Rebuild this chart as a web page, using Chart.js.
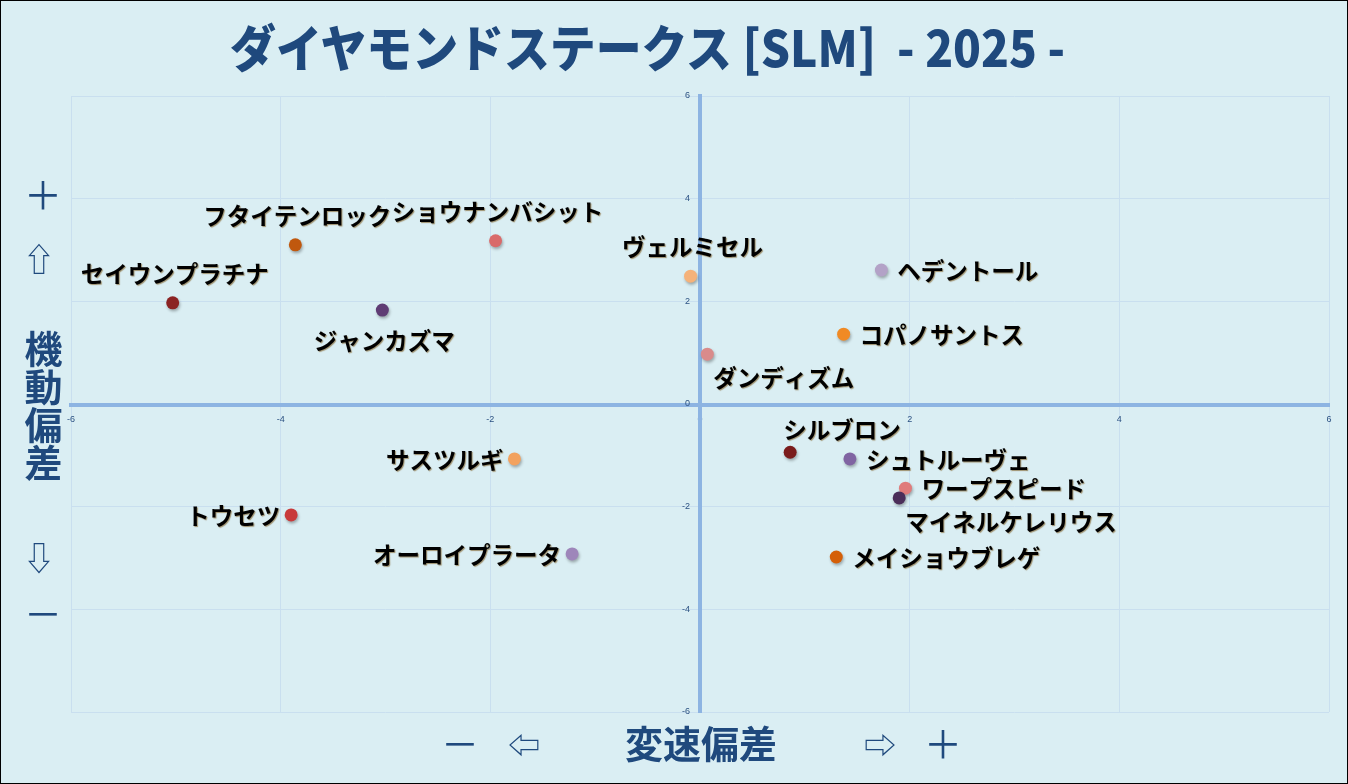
<!DOCTYPE html>
<html lang="ja">
<head>
<meta charset="utf-8">
<script src="https://cdn.jsdelivr.net/npm/chart.js@4.4.0/dist/chart.umd.min.js"></script>
<style>
  html, body { margin: 0; padding: 0; background: #DAEEF3; }
  #wrap { position: relative; width: 1348px; height: 784px; background: #DAEEF3; overflow: hidden; }
  #c { position: absolute; left: 0; top: 0; }
  #frame { position: absolute; left: 0; top: 0; width: 1348px; height: 784px; box-sizing: border-box; border: 1px solid #000; pointer-events: none; }
  .cap { position: absolute; color: #1F497D; font-family: "Noto Sans CJK JP", "DejaVu Sans", sans-serif; white-space: nowrap; transform: translate(-50%, -50%); line-height: 1; }
  #title { position: absolute; left: 230px; top: 20px; color: #1F497D; font-family: "Noto Sans CJK JP", sans-serif; font-weight: 900; font-size: 50px; line-height: 50px; white-space: nowrap; transform-origin: 0 0; }
</style>
</head>
<body>
<div id="wrap">
  <canvas id="c" width="1348" height="784"></canvas>
  <div id="title">ダイヤモンドステークス [SLM]&nbsp; - 2025 -</div>
  <div class="cap" style="left:43px;top:193px;font-size:38px;">＋</div>
  <div class="cap" style="left:39px;top:257px;font-size:32px;">⇧</div>
  <div class="cap" style="left:43px;top:406px;font-size:38px;font-weight:bold;writing-mode:vertical-rl;text-orientation:upright;">機動偏差</div>
  <div class="cap" style="left:39px;top:556px;font-size:32px;">⇩</div>
  <div class="cap" style="left:43px;top:612px;font-size:38px;">－</div>
  <div class="cap" style="left:460px;top:742px;font-size:38px;">－</div>
  <div class="cap" style="left:524px;top:743px;font-size:32px;">⇦</div>
  <div class="cap" style="left:701px;top:742px;font-size:38px;font-weight:bold;">変速偏差</div>
  <div class="cap" style="left:880px;top:743px;font-size:32px;">⇨</div>
  <div class="cap" style="left:943px;top:742px;font-size:38px;">＋</div>
  <div id="frame"></div>
</div>
<script>
// ---- data ----
const horseNames = [
  'セイウンプラチナ', 'フタイテンロック', 'ショウナンバシット', 'ジャンカズマ',
  'ヴェルミセル', 'ヘデントール', 'コパノサントス', 'ダンディズム',
  'シルブロン', 'シュトルーヴェ', 'ワープスピード', 'マイネルケレリウス',
  'メイショウブレゲ', 'サスツルギ', 'トウセツ', 'オーロイプラータ'
];
const speedDeviation = [ -5.03, -3.86, -1.95, -3.03, -0.09, 1.73, 1.37, 0.07, 0.86, 1.43, 1.96, 1.90, 1.30, -1.77, -3.90, -1.22 ];
const mobilityDeviation = [ 1.97, 3.10, 3.18, 1.83, 2.49, 2.61, 1.36, 0.97, -0.94, -1.07, -1.64, -1.83, -2.98, -1.07, -2.16, -2.92 ];
const pointColors = [
  '#8B2323', '#C0580E', '#D96A6A', '#5F3C74',
  '#F5B27A', '#B3A2C7', '#F08A24', '#D98B8B',
  '#7A1C1C', '#8064A2', '#E07B7B', '#4B2E5A',
  '#D45F08', '#F2A25F', '#C83A3A', '#9E86BA'
];
const labelPlacement = [
  'top', 'top', 'top', 'bottom',
  'top', 'right', 'right', 'bottom-right',
  'top-right', 'right', 'right', 'bottom-right',
  'right', 'left', 'left', 'left'
];
const xTickValues = [-6, -4, -2, 0, 2, 4, 6];
const yTickValues = [-6, -4, -2, 0, 2, 4, 6];

// ---- title fit ----
(function () {
  const t = document.getElementById('title');
  const w = t.getBoundingClientRect().width;
  t.style.transform = 'scaleX(' + (835 / w) + ')';
})();

const points = horseNames.map((n, i) => ({ x: speedDeviation[i], y: mobilityDeviation[i] }));

const shadowPlugin = {
  id: 'pointShadow',
  beforeDatasetsDraw(chart) {
    const ctx = chart.ctx;
    ctx.save();
    ctx.shadowColor = 'rgba(0,0,0,0.3)';
    ctx.shadowBlur = 3;
    ctx.shadowOffsetX = 1;
    ctx.shadowOffsetY = 2;
  },
  afterDatasetsDraw(chart) {
    chart.ctx.restore();
  }
};

const labelPlugin = {
  id: 'horseLabels',
  afterDraw(chart) {
    const ctx = chart.ctx;
    const meta = chart.getDatasetMeta(0);
    ctx.save();
    ctx.font = 'bold 23.5px "Noto Sans CJK JP", sans-serif';
    ctx.fillStyle = '#000';
    ctx.shadowColor = 'rgba(110,70,0,0.55)';
    ctx.shadowBlur = 1;
    ctx.shadowOffsetX = 1;
    ctx.shadowOffsetY = 1;
    ctx.textBaseline = 'middle';
    meta.data.forEach((el, i) => {
      const p = labelPlacement[i];
      let x = el.x, y = el.y;
      if (p === 'top') { ctx.textAlign = 'center'; x += 2; y -= 29; }
      else if (p === 'bottom') { ctx.textAlign = 'center'; x += 2; y += 31; }
      else if (p === 'right') { ctx.textAlign = 'left'; x += 16; y += 1; }
      else if (p === 'left') { ctx.textAlign = 'right'; x -= 11; y += 1; }
      else if (p === 'bottom-right') { ctx.textAlign = 'left'; x += 6; y += 24; }
      else if (p === 'top-right') { ctx.textAlign = 'left'; x -= 7; y -= 22; }
      ctx.fillText(horseNames[i], x, y);
    });
    ctx.restore();
  }
};

const tickFont = { family: '"Liberation Sans", sans-serif', size: 9 };

new Chart(document.getElementById('c'), {
  type: 'scatter',
  data: {
    datasets: [{
      label: 'horses',
      data: points,
      pointBackgroundColor: pointColors,
      pointBorderColor: pointColors,
      pointBorderWidth: 0,
      pointRadius: 6.5,
      pointHoverRadius: 6.5
    }]
  },
  options: {
    responsive: false,
    animation: false,
    events: [],
    layout: { padding: { left: 71, top: 96, right: 19, bottom: 72 } },
    plugins: { legend: { display: false }, tooltip: { enabled: false }, title: { display: false } },
    scales: {
      x: {
        type: 'linear', min: -6, max: 6, position: 'center',
        afterBuildTicks: (s) => { s.ticks = xTickValues.map(v => ({ value: v })); },
        ticks: { color: '#2C5282', font: tickFont, padding: 10, maxRotation: 0, autoSkip: false },
        grid: { color: '#C9DFEF', lineWidth: 1, drawTicks: false },
        border: { display: true, color: '#8DB4E2', width: 4 }
      },
      y: {
        type: 'linear', min: -6, max: 6, position: 'center',
        afterBuildTicks: (s) => { s.ticks = yTickValues.map(v => ({ value: v })); },
        ticks: { color: '#2C5282', font: tickFont, padding: 10, autoSkip: false },
        grid: { color: '#C9DFEF', lineWidth: 1, drawTicks: false },
        border: { display: true, color: '#8DB4E2', width: 4 }
      }
    }
  },
  plugins: [shadowPlugin, labelPlugin]
});
</script>
</body>
</html>
